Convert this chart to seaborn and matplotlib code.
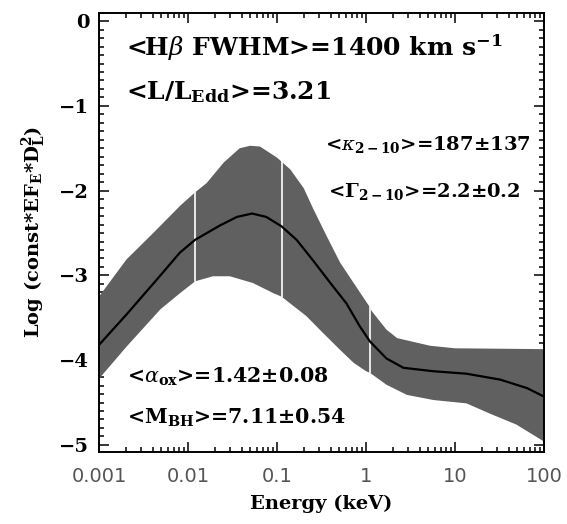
import numpy as np
import pandas as pd
import seaborn as sns
import matplotlib
matplotlib.use("Agg")
import matplotlib.pyplot as plt
from matplotlib.ticker import FixedLocator, FixedFormatter, MultipleLocator, LogLocator, NullFormatter

# ---- data (log10 energy in keV, log flux) ----
mean_logE = [-3.00, -2.69, -2.31, -2.09, -1.92, -1.64, -1.45, -1.28, -1.12, -0.95,
             -0.78, -0.59, -0.40, -0.22, -0.07, 0.045, 0.23, 0.42, 0.75, 1.13,
             1.51, 1.81, 2.00]
mean_val = [-3.82, -3.46, -3.00, -2.73, -2.58, -2.41, -2.31, -2.27, -2.31, -2.42,
            -2.58, -2.83, -3.09, -3.33, -3.60, -3.78, -3.98, -4.09, -4.13, -4.16,
            -4.23, -4.33, -4.43]

upper_logE = [-3.00, -2.69, -2.40, -2.09, -1.92, -1.79, -1.60, -1.42, -1.30, -1.19,
              -1.00, -0.85, -0.70, -0.59, -0.44, -0.29, -0.10, 0.04, 0.064, 0.23,
              0.35, 0.72, 1.00, 2.00]
upper_val = [-3.25, -2.81, -2.51, -2.18, -2.02, -1.91, -1.67, -1.50, -1.47, -1.48,
             -1.61, -1.75, -1.97, -2.22, -2.54, -2.85, -3.15, -3.37, -3.42, -3.64,
             -3.74, -3.83, -3.86, -3.87]

lower_logE = [-3.00, -2.69, -2.31, -2.09, -1.92, -1.72, -1.53, -1.27, -1.04, -0.95,
              -0.67, -0.52, -0.29, -0.14, 0.00, 0.045, 0.23, 0.46, 0.756, 1.13,
              1.39, 1.69, 2.00]
lower_val = [-4.22, -3.84, -3.40, -3.21, -3.07, -3.01, -3.01, -3.09, -3.21, -3.25,
             -3.48, -3.64, -3.88, -4.03, -4.13, -4.15, -4.29, -4.41, -4.47, -4.51,
             -4.63, -4.76, -4.96]

# white band separators (energy keV, bottom, top)
sep_E = [0.012, 0.113, 1.11]
sep_lo = [-3.07, -3.25, -4.15]
sep_hi = [-2.02, -1.64, -3.37]

xtick_vals = [0.001, 0.01, 0.1, 1, 10, 100]
xtick_labels = ["0.001", "0.01", "0.1", "1", "10", "100"]
ytick_vals = [0, -1, -2, -3, -4, -5]
ytick_labels = ["0", "\u22121", "\u22122", "\u22123", "\u22124", "\u22125"]

texts = [
    (r"<H$\beta$ FWHM>=1400 km s$^{-1}$", 0.061, 0.92, "left", 18),
    (r"<L/L$_{\mathrm{Edd}}$>=3.21", 0.061, 0.82, "left", 18),
    (r"<$\kappa_{\mathrm{2-10}}$>=187±137", 0.969, 0.699, "right", 14),
    (r"<$\Gamma_{\mathrm{2-10}}$>=2.2±0.2", 0.946, 0.592, "right", 14),
    (r"<$\alpha_{\mathrm{ox}}$>=1.42±0.08", 0.063, 0.170, "left", 14.8),
    (r"<M$_{\mathrm{BH}}$>=7.11±0.54", 0.063, 0.077, "left", 14.8),
]

# ---- style ----
sns.set_style("ticks")
plt.rcParams["font.family"] = ["DejaVu Serif"]
plt.rcParams["mathtext.fontset"] = "custom"
plt.rcParams["mathtext.rm"] = "DejaVu Serif:bold"
plt.rcParams["mathtext.bf"] = "DejaVu Serif:bold"
plt.rcParams["mathtext.it"] = "DejaVu Serif:italic"
plt.rcParams["text.color"] = "black"
plt.rcParams["axes.labelcolor"] = "black"
plt.rcParams["xtick.color"] = "black"
plt.rcParams["ytick.color"] = "black"

fig = plt.figure(figsize=(5.67, 5.24), dpi=100)
ax = fig.add_axes([0.1746, 0.138, 0.9594 - 0.1746, 0.9758 - 0.138])

E_up = [10 ** v for v in upper_logE]
E_lo = [10 ** v for v in lower_logE]
ax.fill(E_up + E_lo[::-1], upper_val + lower_val[::-1], color="#606060", lw=0, zorder=1)

for e, lo, hi in zip(sep_E, sep_lo, sep_hi):
    ax.plot([e, e], [lo, hi], color="white", lw=1.2, zorder=2)

df = pd.DataFrame({"E": [10 ** v for v in mean_logE], "val": mean_val})
sns.lineplot(data=df, x="E", y="val", color="black", lw=1.6, ax=ax, zorder=3)

ax.set_xscale("log")
ax.set_xlim(0.001, 100)
ax.set_ylim(-5.08, 0.1)

ax.xaxis.set_major_locator(FixedLocator(xtick_vals))
ax.xaxis.set_major_formatter(FixedFormatter(xtick_labels))
ax.xaxis.set_minor_locator(LogLocator(base=10, subs=np.arange(2, 10)))
ax.xaxis.set_minor_formatter(NullFormatter())
ax.yaxis.set_major_locator(FixedLocator(ytick_vals))
ax.yaxis.set_major_formatter(FixedFormatter(ytick_labels))
ax.yaxis.set_minor_locator(MultipleLocator(0.1))

ax.tick_params(which="both", direction="in", top=True, right=True, width=1.1, color="black")
ax.tick_params(which="major", length=7)
ax.tick_params(which="minor", length=3.5)
ax.tick_params(axis="x", which="major", labelsize=14, labelcolor="#555555", pad=11)
ax.tick_params(axis="y", which="major", labelsize=14, labelcolor="black", pad=7)
for lab in ax.get_xticklabels():
    lab.set_family("DejaVu Sans")
for lab in ax.get_yticklabels():
    lab.set_fontweight("bold")

for s in ax.spines.values():
    s.set_linewidth(1.4)
    s.set_color("black")

ax.set_xlabel("Energy (keV)", fontsize=14, fontweight="bold", color="black", labelpad=6)
ax.set_ylabel(r"Log (const*EF$_{\mathrm{E}}$*D$_{\mathrm{L}}^{2}$)", fontsize=14,
              fontweight="bold", color="black", labelpad=8)

for t, x, y, ha, fs in texts:
    ax.text(x, y, t, transform=ax.transAxes, ha=ha, va="center", fontsize=fs,
            fontweight="bold", color="black", zorder=4)

fig.savefig("out.png", dpi=100)
